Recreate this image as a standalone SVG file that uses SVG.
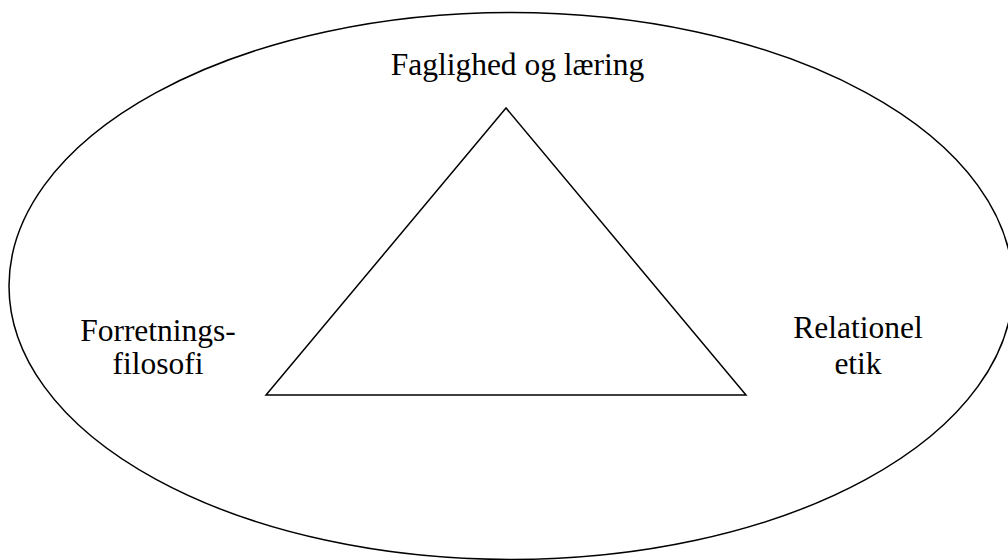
<svg xmlns="http://www.w3.org/2000/svg" width="1008" height="560" viewBox="0 0 1008 560">
<style>
.shape{fill:none;stroke:#000;stroke-width:1.5}
.lbl{font-family:"Liberation Serif","Times New Roman",serif;font-size:31.5px;fill:#000;text-anchor:middle}
</style>
<rect width="1008" height="560" fill="#fff"/>
<g id="ellipse"><ellipse class="shape" cx="511" cy="286" rx="502" ry="273.5"/></g>
<g id="connectors"><polygon class="shape" points="506,108 266,395 746,395"/></g>
<g id="node-top"><text class="lbl" x="517.5" y="75">Faglighed og læring</text></g>
<g id="node-left"><text class="lbl" x="158" y="341">Forretnings-</text><text class="lbl" x="158" y="374">filosofi</text></g>
<g id="node-right"><text class="lbl" x="858" y="338">Relationel</text><text class="lbl" x="858" y="374">etik</text></g>
</svg>
